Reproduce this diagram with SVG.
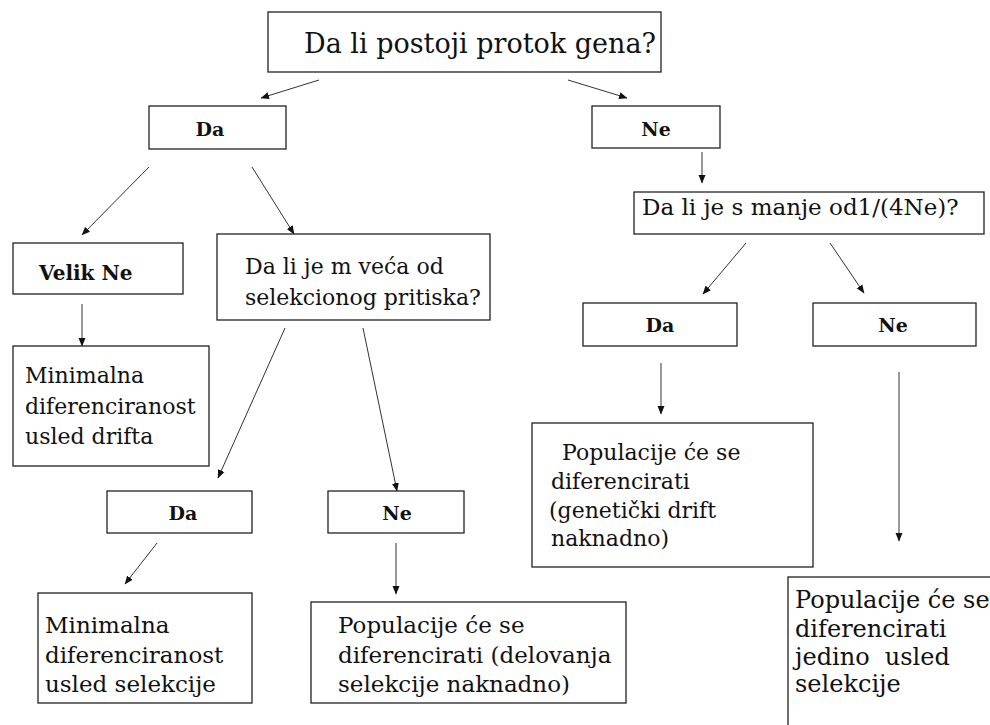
<svg xmlns="http://www.w3.org/2000/svg" width="990" height="725" viewBox="0 0 990 725">
<style>
.box{fill:#fff;stroke:#222;stroke-width:1.3}
.t{font-family:"DejaVu Serif","Liberation Serif",serif;font-size:22px;fill:#111}
.b{font-family:"DejaVu Serif","Liberation Serif",serif;font-size:19px;font-weight:bold;fill:#111}
.c{stroke:#333;stroke-width:1;fill:none;marker-end:url(#ah)}
</style>
<defs>
<marker id="ah" markerWidth="9" markerHeight="8" refX="8" refY="4" orient="auto" markerUnits="userSpaceOnUse">
<path d="M0,0.5 L8.5,4 L0,7.5 Z" fill="#111"/>
</marker>
</defs>
<rect width="990" height="725" fill="#fff"/>
<g id="connectors">
<line class="c" x1="319" y1="80" x2="261" y2="98"/>
<line class="c" x1="568" y1="80" x2="627" y2="98"/>
<line class="c" x1="702" y1="152" x2="702" y2="183"/>
<line class="c" x1="149" y1="167" x2="82" y2="235"/>
<line class="c" x1="252" y1="167" x2="294" y2="234"/>
<line class="c" x1="82" y1="304" x2="82" y2="346"/>
<line class="c" x1="285" y1="328" x2="218" y2="478"/>
<line class="c" x1="363" y1="328" x2="397" y2="491"/>
<line class="c" x1="157" y1="543" x2="125" y2="584"/>
<line class="c" x1="396" y1="543" x2="396" y2="594"/>
<line class="c" x1="746" y1="243" x2="703" y2="294"/>
<line class="c" x1="830" y1="243" x2="864" y2="293"/>
<line class="c" x1="661" y1="363" x2="661" y2="414"/>
<line class="c" x1="899" y1="372" x2="899" y2="541"/>
</g>
<g id="q1">
<rect class="box" x="268" y="12" width="393" height="60"/>
<text class="t" x="304" y="53" style="font-size:27px">Da li postoji protok gena?</text>
</g>
<g id="da1">
<rect class="box" x="149" y="106" width="137" height="43"/>
<text class="b" x="210" y="136" text-anchor="middle">Da</text>
</g>
<g id="ne1">
<rect class="box" x="592" y="106" width="128" height="42"/>
<text class="b" x="656" y="136" text-anchor="middle">Ne</text>
</g>
<g id="q3">
<rect class="box" x="634" y="192" width="350" height="42"/>
<text class="t" x="642" y="215" style="font-size:23px">Da li je s manje od1/(4Ne)?</text>
</g>
<g id="velik">
<rect class="box" x="13" y="243" width="170" height="51"/>
<text class="b" x="39" y="280" style="font-size:20px">Velik Ne</text>
</g>
<g id="q2">
<rect class="box" x="217" y="234" width="273" height="86"/>
<text class="t" x="245" y="274">Da li je m veća od</text>
<text class="t" x="245" y="305">selekcionog pritiska?</text>
</g>
<g id="min1">
<rect class="box" x="13" y="346" width="196" height="120"/>
<text class="t" x="25" y="383">Minimalna</text>
<text class="t" x="25" y="414">diferenciranost</text>
<text class="t" x="25" y="444">usled drifta</text>
</g>
<g id="da3">
<rect class="box" x="583" y="303" width="154" height="43"/>
<text class="b" x="660" y="332" text-anchor="middle">Da</text>
</g>
<g id="ne3">
<rect class="box" x="813" y="303" width="163" height="43"/>
<text class="b" x="893" y="332" text-anchor="middle">Ne</text>
</g>
<g id="pop3">
<rect class="box" x="532" y="423" width="281" height="144"/>
<text class="t" x="562" y="460">Populacije će se</text>
<text class="t" x="551" y="489">diferencirati</text>
<text class="t" x="549" y="518">(genetički drift</text>
<text class="t" x="551" y="546">naknadno)</text>
</g>
<g id="da2">
<rect class="box" x="107" y="491" width="145" height="42"/>
<text class="b" x="183" y="520" text-anchor="middle">Da</text>
</g>
<g id="ne2">
<rect class="box" x="328" y="491" width="136" height="42"/>
<text class="b" x="397" y="520" text-anchor="middle">Ne</text>
</g>
<g id="min2">
<rect class="box" x="38" y="593" width="214" height="110"/>
<text class="t" x="45" y="633" style="font-size:23px">Minimalna</text>
<text class="t" x="45" y="663" style="font-size:23px">diferenciranost</text>
<text class="t" x="45" y="692" style="font-size:23px">usled selekcije</text>
</g>
<g id="pop2">
<rect class="box" x="311" y="602" width="315" height="101"/>
<text class="t" x="338" y="633" style="font-size:23px">Populacije će se</text>
<text class="t" x="338" y="663" style="font-size:23px">diferencirati (delovanja</text>
<text class="t" x="338" y="692" style="font-size:23px">selekcije naknadno)</text>
</g>
<g id="pop4">
<rect class="box" x="788" y="577" width="220" height="170"/>
<text class="t" x="795" y="608" style="font-size:24px">Populacije će se</text>
<text class="t" x="795" y="637" style="font-size:24px">diferencirati</text>
<text class="t" x="795" y="665" style="font-size:24px" xml:space="preserve">jedino  usled</text>
<text class="t" x="795" y="692" style="font-size:24px">selekcije</text>
</g>
</svg>
